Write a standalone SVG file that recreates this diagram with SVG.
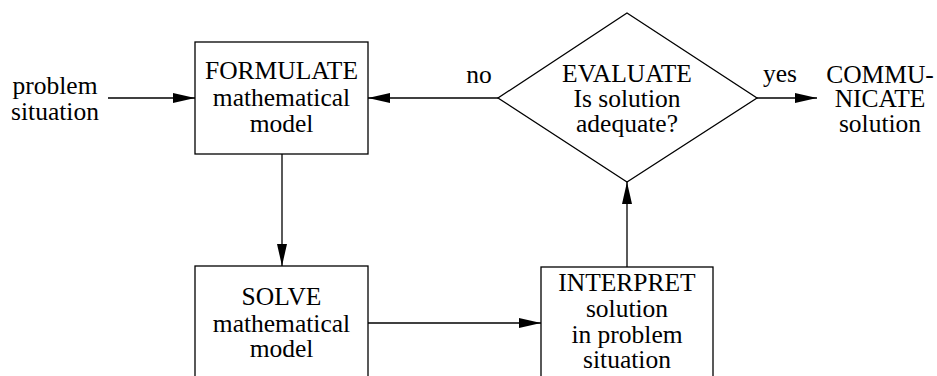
<svg xmlns="http://www.w3.org/2000/svg" width="937" height="376" viewBox="0 0 937 376">
<defs>
<marker id="ah" markerWidth="22" markerHeight="10" refX="22" refY="5" orient="auto" markerUnits="userSpaceOnUse">
<polygon points="0,0 22,5 0,10" fill="#000"/>
</marker>
<style>
.box{fill:#fff;stroke:#000;stroke-width:1.3}
.c{stroke:#000;stroke-width:1.3;fill:none;marker-end:url(#ah)}
.t{font-size:25.5px;fill:#000;text-anchor:middle}
</style>
</defs>
<rect width="937" height="376" fill="#fff"/>
<g font-family="'Liberation Serif', 'Times New Roman', serif">
<g id="connectors">
<line class="c" x1="108" y1="98" x2="195" y2="98"/>
<line class="c" x1="498" y1="98" x2="368" y2="98"/>
<line class="c" x1="757" y1="98" x2="817" y2="98"/>
<line class="c" x1="282" y1="154" x2="282" y2="266"/>
<line class="c" x1="368" y1="323" x2="541" y2="323"/>
<line class="c" x1="627" y1="267" x2="627" y2="182"/>
<text class="t" x="479" y="83">no</text>
<text class="t" x="780" y="82">yes</text>
</g>
<g id="problem">
<text class="t" x="55" y="94">problem</text>
<text class="t" x="55" y="120">situation</text>
</g>
<g id="formulate">
<rect class="box" x="195" y="42" width="173" height="112"/>
<text class="t" x="281.5" y="79">FORMULATE</text>
<text class="t" x="281.5" y="106">mathematical</text>
<text class="t" x="281.5" y="132">model</text>
</g>
<g id="evaluate">
<polygon class="box" points="627,13 757,98 627,182 498,98"/>
<text class="t" x="627" y="82">EVALUATE</text>
<text class="t" x="627" y="107">Is solution</text>
<text class="t" x="627" y="132">adequate?</text>
</g>
<g id="communicate">
<text class="t" x="880" y="83">COMMU-</text>
<text class="t" x="880" y="107">NICATE</text>
<text class="t" x="880" y="132">solution</text>
</g>
<g id="solve">
<rect class="box" x="195" y="266" width="173" height="120"/>
<text class="t" x="281.5" y="305">SOLVE</text>
<text class="t" x="281.5" y="332">mathematical</text>
<text class="t" x="281.5" y="357">model</text>
</g>
<g id="interpret">
<rect class="box" x="541" y="267" width="172" height="120"/>
<text class="t" x="627" y="291">INTERPRET</text>
<text class="t" x="627" y="317">solution</text>
<text class="t" x="627" y="343">in problem</text>
<text class="t" x="627" y="368">situation</text>
</g>
</g>
</svg>
